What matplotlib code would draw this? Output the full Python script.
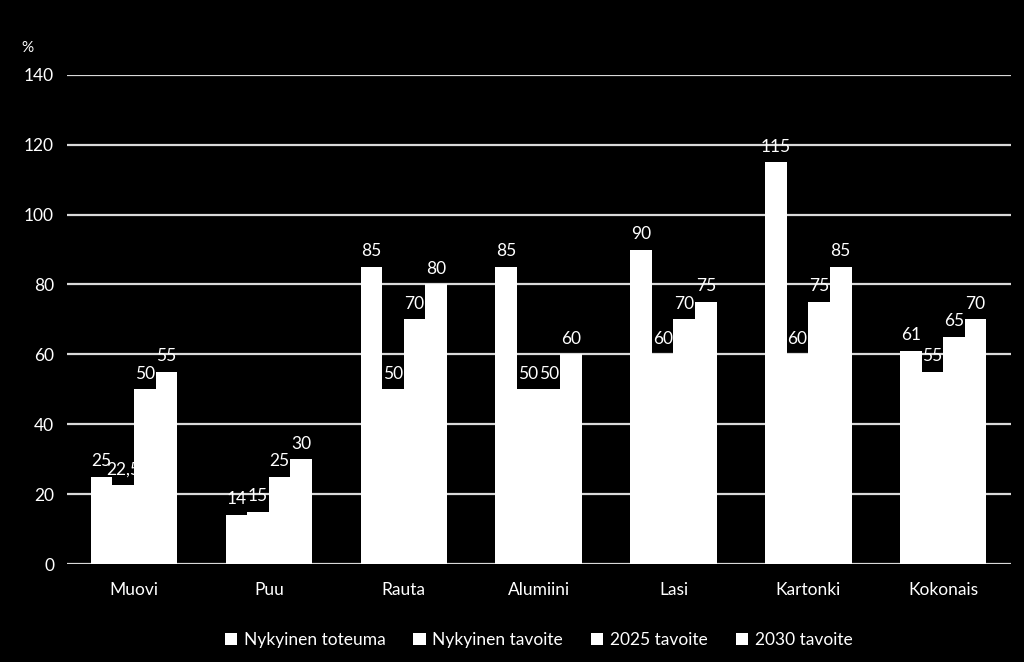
import numpy as np
import matplotlib.pyplot as plt

categories = ["Muovi", "Puu", "Rauta", "Alumiini", "Lasi", "Kartonki", "Kokonais"]
series_names = ["Nykyinen toteuma", "Nykyinen tavoite", "2025 tavoite", "2030 tavoite"]
nykyinen_toteuma = [25, 14, 85, 85, 90, 115, 61]
nykyinen_tavoite = [22.5, 15, 50, 50, 60, 60, 55]
tavoite_2025 = [50, 25, 70, 50, 70, 75, 65]
tavoite_2030 = [55, 30, 80, 60, 75, 85, 70]
yticks = [0, 20, 40, 60, 80, 100, 120, 140]

series = [nykyinen_toteuma, nykyinen_tavoite, tavoite_2025, tavoite_2030]

plt.rcParams["font.family"] = ["Lato", "DejaVu Sans"]

fig = plt.figure(figsize=(10.24, 6.62), dpi=100, facecolor="black")
ax = fig.add_axes([0.065, 0.148, 0.922, 0.739], facecolor="black")

x = np.arange(len(categories))
width = 0.16
for i, vals in enumerate(series):
    pos = x + (i - 1.5) * width
    ax.bar(pos, vals, width=width, color="white", edgecolor="none",
           zorder=3 + 2 * i, label=series_names[i])
    # later bars cover earlier labels, as in the original
    for p, v in zip(pos, vals):
        txt = f"{v:g}".replace(".", ",")
        ax.annotate(txt, (p, v), xytext=(0, 5.5), textcoords="offset points",
                    ha="center", va="bottom", color="white", fontsize=12.5,
                    zorder=4 + 2 * i)

ax.set_xlim(-0.5, len(categories) - 0.5)
ax.set_ylim(0, 140)
ax.set_yticks(yticks)
ax.set_xticks(x)
ax.set_xticklabels(categories)
ax.yaxis.grid(True, color="#d9d9d9", linewidth=1.6, zorder=1)
ax.set_axisbelow(True)
for s in ax.spines.values():
    s.set_visible(False)
ax.tick_params(length=0, colors="white", labelsize=12.5)
ax.tick_params(axis="y", pad=9)
ax.tick_params(axis="x", pad=13)

fig.text(0.027, 0.928, "%", color="white", fontsize=11, ha="center", va="center")

leg = ax.legend(loc="center", bbox_to_anchor=(0.5, -0.155), ncol=4, frameon=False,
                handlelength=0.7, handleheight=0.7, handletextpad=0.4,
                columnspacing=1.6, fontsize=12.5)
for t in leg.get_texts():
    t.set_color("white")

fig.savefig("out.png", dpi=100, facecolor="black")
